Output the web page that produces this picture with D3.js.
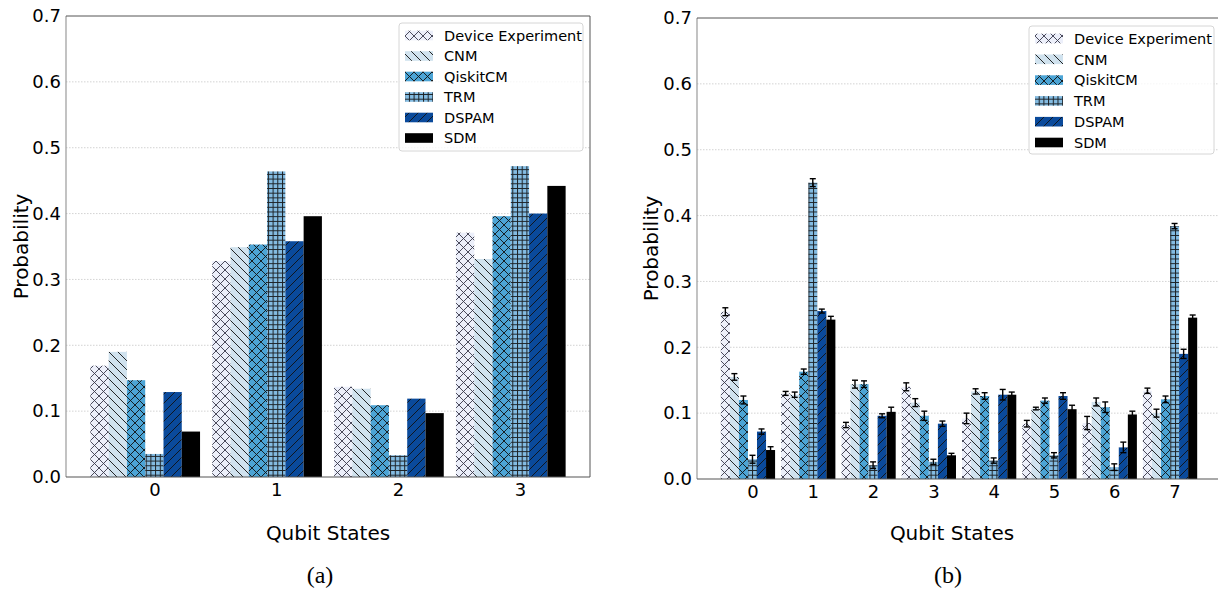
<!DOCTYPE html>
<html>
<head>
<meta charset="utf-8">
<script src="https://cdn.jsdelivr.net/npm/d3@7"></script>
<style>
  html, body { margin: 0; padding: 0; background: #fff; }
  svg { display: block; }
  text { font-family: "DejaVu Sans", sans-serif; fill: #000; }
</style>
</head>
<body>
<svg id="chart" width="1218" height="595"></svg>
<script>
// ---------------- data ----------------
const seriesNames = ["Device Experiment", "CNM", "QiskitCM", "TRM", "DSPAM", "SDM"];
const yTicks = [0.0, 0.1, 0.2, 0.3, 0.4, 0.5, 0.6, 0.7];

// panel (a)
const statesA = ["0", "1", "2", "3"];
const probA_device = [0.169, 0.328, 0.137, 0.371];
const probA_cnm    = [0.190, 0.349, 0.134, 0.331];
const probA_qiskit = [0.147, 0.353, 0.109, 0.396];
const probA_trm    = [0.035, 0.464, 0.033, 0.472];
const probA_dspam  = [0.129, 0.358, 0.119, 0.400];
const probA_sdm    = [0.069, 0.396, 0.097, 0.442];

// panel (b)
const statesB = ["0", "1", "2", "3", "4", "5", "6", "7"];
const probB_device = [0.254, 0.130, 0.082, 0.140, 0.092, 0.084, 0.085, 0.134];
const errB_device  = [0.006, 0.003, 0.004, 0.006, 0.008, 0.005, 0.010, 0.004];
const probB_cnm    = [0.155, 0.128, 0.144, 0.116, 0.133, 0.107, 0.117, 0.100];
const errB_cnm     = [0.005, 0.004, 0.006, 0.006, 0.004, 0.002, 0.006, 0.006];
const probB_qiskit = [0.120, 0.163, 0.144, 0.096, 0.126, 0.119, 0.109, 0.121];
const errB_qiskit  = [0.006, 0.004, 0.005, 0.007, 0.005, 0.004, 0.008, 0.005];
const probB_trm    = [0.030, 0.450, 0.021, 0.026, 0.028, 0.036, 0.018, 0.384];
const errB_trm     = [0.006, 0.006, 0.005, 0.004, 0.004, 0.004, 0.005, 0.004];
const probB_dspam  = [0.072, 0.255, 0.096, 0.084, 0.128, 0.126, 0.048, 0.190];
const errB_dspam   = [0.004, 0.003, 0.003, 0.004, 0.008, 0.005, 0.008, 0.007];
const probB_sdm    = [0.044, 0.242, 0.102, 0.036, 0.128, 0.106, 0.098, 0.245];
const errB_sdm     = [0.005, 0.005, 0.007, 0.003, 0.004, 0.006, 0.005, 0.004];

// ---------------- styles ----------------
const colors  = ["#eceffa", "#d0e2ee", "#4ca4d5", "#84bce2", "#0a4a9b", "#000000"];
const hatches = ["x", "\\", "x", "+", "/", ""];

const svg = d3.select("#chart");
svg.append("rect").attr("width", 1218).attr("height", 595).attr("fill", "#fff");
const defs = svg.append("defs");

seriesNames.forEach((name, i) => {
  const h = hatches[i];
  const s = h === "+" ? 4.7 : 9;
  const p = defs.append("pattern")
    .attr("id", "pat" + i)
    .attr("patternUnits", "userSpaceOnUse")
    .attr("width", s).attr("height", s);
  p.append("rect").attr("width", s).attr("height", s).attr("fill", colors[i]);
  let d = "";
  if (h === "x") d = `M-1,-1L${s+1},${s+1}M-1,${s+1}L${s+1},-1`;
  else if (h === "\\") d = `M-1,-1L${s+1},${s+1}`;
  else if (h === "/") d = `M-1,${s+1}L${s+1},-1`;
  else if (h === "+") d = `M0,0.5H${s}M0.5,0V${s}`;
  if (d) p.append("path").attr("d", d)
    .attr("stroke", i === 0 ? "#3a3a4a" : "#111")
    .attr("stroke-width", 1).attr("stroke-opacity", 0.9).attr("fill", "none");
});

function fillOf(i) { return hatches[i] ? `url(#pat${i})` : colors[i]; }

// ---------------- panel builder ----------------
function drawPanel(cfg) {
  const { left, right, top, bottom, xDomain, states, series, errors, legend, ylabX, xlabX, capX } = cfg;
  const x = d3.scaleLinear().domain(xDomain).range([left, right]);
  const y = d3.scaleLinear().domain([0, 0.7]).range([bottom, top]);
  const w = 0.15;
  const g = svg.append("g");

  // grid
  g.append("g").selectAll("line").data(yTicks.filter(t => t > 0 && t < 0.7)).join("line")
    .attr("x1", left).attr("x2", right)
    .attr("y1", d => y(d)).attr("y2", d => y(d))
    .attr("stroke", "#c8c8c8").attr("stroke-width", 0.8).attr("stroke-dasharray", "1.5,1.5");

  // bars
  series.forEach((vals, k) => {
    g.append("g").selectAll("rect").data(vals).join("rect")
      .attr("x", (d, i) => x(i + (k - 3) * w - w / 2))
      .attr("width", (d, i) => x(i + (k - 3) * w + w / 2) - x(i + (k - 3) * w - w / 2))
      .attr("y", d => y(d))
      .attr("height", d => y(0) - y(d))
      .attr("fill", fillOf(k));
  });

  // error bars
  if (errors) {
    series.forEach((vals, k) => {
      const eg = g.append("g").attr("stroke", "#000").attr("stroke-width", 1.4);
      vals.forEach((v, i) => {
        const cx = x(i + (k - 3) * w);
        const e = errors[k][i];
        eg.append("line").attr("x1", cx).attr("x2", cx).attr("y1", y(v - e)).attr("y2", y(v + e));
        eg.append("line").attr("x1", cx - 3).attr("x2", cx + 3).attr("y1", y(v - e)).attr("y2", y(v - e));
        eg.append("line").attr("x1", cx - 3).attr("x2", cx + 3).attr("y1", y(v + e)).attr("y2", y(v + e));
      });
    });
  }

  // frame
  g.append("line").attr("x1", left).attr("x2", left).attr("y1", top).attr("y2", bottom)
    .attr("stroke", "#9a9a9a").attr("stroke-width", 1.2);
  g.append("line").attr("x1", left).attr("x2", right).attr("y1", top).attr("y2", top)
    .attr("stroke", "#555").attr("stroke-width", 1);
  g.append("line").attr("x1", right).attr("x2", right).attr("y1", top).attr("y2", bottom)
    .attr("stroke", "#555").attr("stroke-width", 1);
  g.append("line").attr("x1", left).attr("x2", right).attr("y1", bottom).attr("y2", bottom)
    .attr("stroke", "#555").attr("stroke-width", 1.2);

  // y axis labels
  const yAxis = d3.axisLeft(y).tickValues(yTicks).tickFormat(d3.format(".1f")).tickSize(0).tickPadding(5);
  const ya = g.append("g").attr("transform", `translate(${left},0)`).call(yAxis);
  ya.select(".domain").remove();
  ya.selectAll("text").attr("font-size", 18).attr("font-family", "DejaVu Sans").attr("fill", "#000");

  // x axis labels
  const xAxis = d3.axisBottom(x).tickValues(states.map((s, i) => i)).tickFormat(i => states[i]).tickSize(0).tickPadding(6);
  const xa = g.append("g").attr("transform", `translate(0,${bottom})`).call(xAxis);
  xa.select(".domain").remove();
  xa.selectAll("text").attr("font-size", 18).attr("font-family", "DejaVu Sans").attr("fill", "#000");

  // axis titles
  g.append("text").attr("transform", `translate(${ylabX},${(top + bottom) / 2}) rotate(-90)`)
    .attr("text-anchor", "middle").attr("font-size", 20).text("Probability");
  g.append("text").attr("x", xlabX).attr("y", 540).attr("text-anchor", "middle")
    .attr("font-size", 20).text("Qubit States");
  g.append("text").attr("x", capX).attr("y", 583).attr("text-anchor", "middle")
    .attr("font-size", 24).style("font-family", "'Liberation Serif', 'DejaVu Serif', serif")
    .text(cfg.caption);

  // legend
  const lg = g.append("g");
  lg.append("rect").attr("x", legend.x).attr("y", legend.y).attr("width", legend.w).attr("height", legend.h)
    .attr("rx", 3).attr("fill", "#fff").attr("fill-opacity", 0.8)
    .attr("stroke", "#d6d6d6").attr("stroke-width", 1);
  seriesNames.forEach((name, k) => {
    const cy = legend.y + 12.5 + k * legend.step;
    lg.append("rect").attr("x", legend.x + 6).attr("y", cy - 4.8).attr("width", 28).attr("height", 9.6)
      .attr("fill", fillOf(k));
    lg.append("text").attr("x", legend.x + 45).attr("y", cy + 5.2).attr("font-size", 14.5).text(name);
  });
}

drawPanel({
  left: 66, right: 590, top: 16, bottom: 477,
  xDomain: [-0.725, 3.575],
  states: statesA,
  series: [probA_device, probA_cnm, probA_qiskit, probA_trm, probA_dspam, probA_sdm],
  errors: null,
  legend: { x: 399, y: 23, w: 184, h: 128, step: 20.5 },
  ylabX: 28, xlabX: 328, capX: 320, caption: "(a)"
});

drawPanel({
  left: 697, right: 1221, top: 18, bottom: 479,
  xDomain: [-0.92, 7.77],
  states: statesB,
  series: [probB_device, probB_cnm, probB_qiskit, probB_trm, probB_dspam, probB_sdm],
  errors: [errB_device, errB_cnm, errB_qiskit, errB_trm, errB_dspam, errB_sdm],
  legend: { x: 1029, y: 26, w: 185, h: 128, step: 20.8 },
  ylabX: 658, xlabX: 952, capX: 948, caption: "(b)"
});
</script>
</body>
</html>
